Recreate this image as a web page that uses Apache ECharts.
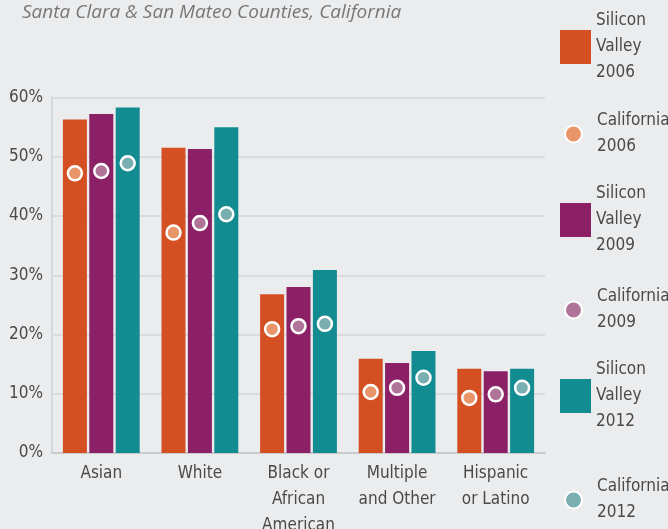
<!DOCTYPE html>
<html>
<head>
<meta charset="utf-8">
<script src="https://cdn.jsdelivr.net/npm/echarts@6/dist/echarts.min.js"></script>
<style>
  html, body { margin: 0; padding: 0; background: #ebecee; }
  #chart { width: 668px; height: 529px; }
</style>
</head>
<body>
<div id="chart"></div>
<script>
// race / ethnicity groups
const categories = ['Asian', 'White', 'Black or\nAfrican\nAmerican', 'Multiple\nand Other', 'Hispanic\nor Latino']
const yTicks = [0, 10, 20, 30, 40, 50, 60]

// Silicon Valley (bars)
const sv2006 = [56.3, 51.5, 26.8, 15.9, 14.2]
const sv2009 = [57.2, 51.3, 28.0, 15.2, 13.8]
const sv2012 = [58.3, 55.0, 30.9, 17.2, 14.2]
// California (dots)
const ca2006 = [47.2, 37.2, 20.9, 10.3, 9.3]
const ca2009 = [47.6, 38.8, 21.4, 11.0, 9.9]
const ca2012 = [48.9, 40.3, 21.8, 12.7, 11.0]

const font = '"DejaVu Sans Condensed", sans-serif'
const textColor = '#4a4a4a'
const barW = 24
const off = barW * 1.1

function bar(name, data, color) {
  return {
    name: name, type: 'bar', data: data,
    barWidth: barW, barGap: '10%',
    itemStyle: { color: color }
  }
}
function dot(name, data, color, dx) {
  return {
    name: name, type: 'scatter', data: data,
    symbol: 'circle', symbolSize: 14, symbolOffset: [dx, 0],
    itemStyle: { color: color, borderColor: '#fff', borderWidth: 2.5, opacity: 1 },
    z: 5
  }
}
function legendAt(name, top, icon) {
  const isRect = icon == 'rect'
  return {
    data: [name], orient: 'vertical', left: isRect ? 560 : 564, top: top, padding: 0,
    icon: icon, itemWidth: 31, itemHeight: isRect ? 34 : 17,
    selectedMode: false,
    textStyle: {
      fontFamily: font, fontSize: 17, lineHeight: 26, color: textColor,
      padding: isRect ? 0 : [0, 0, 0, 3]
    }
  }
}

const chart = echarts.init(document.getElementById('chart'))
const option = {
  backgroundColor: '#ebecee',
  animation: false,
  title: {
    text: 'Santa Clara & San Mateo Counties, California',
    left: 22, top: 3, padding: 0,
    textStyle: { fontFamily: '"Open Sans", sans-serif', fontStyle: 'italic', fontWeight: 'normal', fontSize: 19, color: '#777' }
  },
  legend: [
    legendAt('Silicon\nValley\n2006', 8, 'rect'),
    legendAt('California\n2006', 108, 'circle'),
    legendAt('Silicon\nValley\n2009', 181, 'rect'),
    legendAt('California\n2009', 284, 'circle'),
    legendAt('Silicon\nValley\n2012', 357, 'rect'),
    legendAt('California\n2012', 474, 'circle')
  ],
  grid: { left: 52, right: 123, top: 97.5, bottom: 76, outerBoundsMode: 'none' },
  xAxis: {
    type: 'category',
    data: categories,
    axisLine: { lineStyle: { color: '#c9cacc', width: 2 } },
    axisTick: { inside: true, length: 7, lineStyle: { color: '#d2d3d5', width: 2 } },
    axisLabel: { interval: 0, fontFamily: font, fontSize: 17, lineHeight: 26, color: textColor, margin: 8 }
  },
  yAxis: {
    type: 'value',
    min: yTicks[0], max: yTicks[yTicks.length - 1], interval: 10,
    axisLine: { show: true, lineStyle: { color: '#d6d7d9', width: 2 } },
    axisTick: { show: false },
    splitLine: { lineStyle: { color: '#dadbdd', width: 2 } },
    axisLabel: { formatter: '{value}%', fontFamily: font, fontSize: 17, color: textColor, margin: 9 }
  },
  series: [
    bar('Silicon\nValley\n2006', sv2006, '#d44f22'),
    bar('Silicon\nValley\n2009', sv2009, '#8b2066'),
    bar('Silicon\nValley\n2012', sv2012, '#138c91'),
    dot('California\n2006', ca2006, '#e8956a', -off),
    dot('California\n2009', ca2009, '#b07499', 0),
    dot('California\n2012', ca2012, '#7aafb2', off)
  ]
}
chart.setOption(option)
</script>
</body>
</html>
